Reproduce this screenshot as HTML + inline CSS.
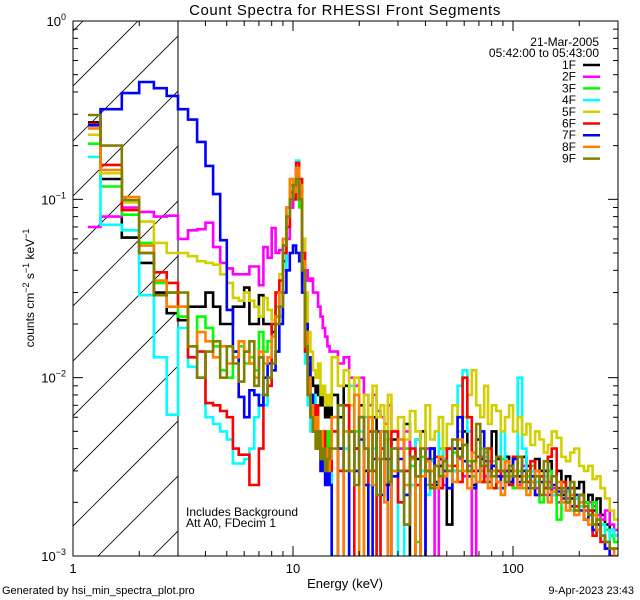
<!DOCTYPE html>
<html><head><meta charset="utf-8"><style>
body{margin:0;background:#fff;}
svg{display:block;font-family:"Liberation Sans",sans-serif;}
</style></head><body>
<svg id="chart" width="640" height="600" viewBox="0 0 640 600">
<defs><clipPath id="plotclip"><rect x="73" y="21" width="545" height="535"/></clipPath>
<clipPath id="hatchclip"><rect x="73" y="21" width="105" height="535"/></clipPath></defs>
<text x="345" y="15" font-size="15" text-anchor="middle" letter-spacing="0.6">Count Spectra for RHESSI Front Segments</text>
<g id="hatch" clip-path="url(#hatchclip)"></g>
<line x1="178" y1="21" x2="178" y2="556" stroke="#000" stroke-width="1"/>
<g id="series" clip-path="url(#plotclip)"></g>
<rect x="73" y="21" width="545" height="535" fill="none" stroke="#000" stroke-width="1"/>
<g id="axes"></g>
<text x="345" y="588" font-size="13" text-anchor="middle">Energy (keV)</text>
<text transform="translate(34,288) rotate(-90)" font-size="12" text-anchor="middle">counts cm<tspan dy="-5" font-size="9">−2</tspan><tspan dy="5"> s</tspan><tspan dy="-5" font-size="9">−1</tspan><tspan dy="5"> keV</tspan><tspan dy="-5" font-size="9">−1</tspan></text>
<text x="599" y="46" font-size="12" text-anchor="end">21-Mar-2005</text>
<text x="599" y="57" font-size="12" text-anchor="end">05:42:00 to 05:43:00</text>
<g id="legend"></g>
<text x="186" y="516" font-size="12">Includes Background</text>
<text x="186" y="527" font-size="12">Att A0, FDecim 1</text>
<text x="2" y="594" font-size="11">Generated by hsi_min_spectra_plot.pro</text>
<text x="634" y="594" font-size="11" text-anchor="end">9-Apr-2023 23:43</text>
</svg>
<script>
const energyEdges=[1.17,1.333,1.667,2,2.333,2.667,3,3.333,3.667,4,4.333,4.667,5,5.333,5.667,6,6.333,6.667,7,7.333,7.667,8,8.333,8.667,9,9.333,9.667,10,10.333,10.667,11,11.333,11.667,12,12.333,12.667,13,13.333,13.667,14,14.333,14.667,
15,16,17,18,19,20,21,22,23,24,25,26,27,28,30,32,34,36,38,40,42,44,46,48,50,53,56,59,62,65,68,71,74,77,80,84,88,92,96,100,105,110,115,120,126,132,138,144,150,158,166,174,182,190,200,210,220,230,240,250,262,275,288,300];
const seriesNames=["1F","2F","3F","4F","5F","6F","7F","8F","9F"];
const seriesColors=["#000000","#ff00ff","#00ff00","#00ffff","#d4d000","#ff0000","#0000ff","#ff8000","#808000"];
// counts in units of 1e-3 counts cm^-2 s^-1 keV^-1
const s1F=[270,130,61,44,30,23,21,25,25,30,25,20,20,25,25,32,20,20,29,20,20,18,22,30,45,70,90,100,150,110,40,18,12,10,9,8,9,7,8,6,7,6,
8,6,9,5,4,7,3,5,6,3.5, 4,5,2.5,4.5,3,5.5,0.7,3.5,5,3, 4,2.5,3.2,4,1.5,3,4,5,3,2.5, 4.5,3.5,2.6,3,5,3.5,2.8,3.6,3,2.4, 2.8,3.6,3.2,2.6,3.5,3,2.4,3.4,2.2,3, 2.2,2.8,2.1,2.4,2.6,2,2.2,1.8,2.1,1.7, 1.5,1.4,1.3];
const s2F=[70,80,90,85,80,81,60,67,68,74,54,44,41,38,38,38,42,42,33,54,47,69,50,52,55,60,90,120,150,100,60,40,35,36,30,30,25,22,19,17,15,14,
14,12,13,10,9,10,8,7,8,6.5, 6,5.5,7,5,4,5,3.5,4.5,3,4, 3,0.5,3.5,2.5,3,4,3.5,2.8,3.2,0.4, 3,3.6,2.8,3.4,3,2.6,3,3.4,2.6,3, 2.5,3.2,2.6,3,2.4,2.8,2.2,2.6,2.4,2, 2.3,2.1,2.4,1.9,2.2,1.8,2,1.9,1.7,1.6, 1.8,1.5,1.4];
const s3F=[205,118,82,57,34,30,22,15,22,19,15,11,10,14,15,12,13,11,18,14,16,20,25,30,60,90,120,100,130,90,35,15,9,7,6,6,4,5,4.5,4,5,4,
6,4,7,3,5,0.8,4,6,3,5, 3.5,2.5,4.5,3,2,4,3.2,1.2,3.6,2.5, 3.5,2.6,4,3,2.4,3.8,3,4.2,3.4,2.8, 3.6,3,2.6,4,3.2,2.4,3.5,2.8,3.2,2.4, 3,2.4,2.8,3.2,2.6,2,2.6,3,2.2,1.6, 2.6,2,2.4,1.8,2.2,2,1.7,2,1.6,1.5, 1.4,1.3,1.2];
const s4F=[173,72,67,29,13,6.2,19,11.5,10,6,5.5,5,4.5,3.3,3.3,3.5,4,6,8,7,9,12,14,22,40,70,110,120,165,100,40,12,7,5,8,6,5,4,4,3,3.5,3,
1,7,4,9,3,5,6,2.5,4,0.8, 3.5,5,2.6,4,0.9,3,2.5,4.5,3,2.2, 3.4,2.6,6,3.5,4,3,9,11,5,3.4, 3,4,3.6,2.8,3.4,2.4,5,3,2.6,3.6, 10,4,2.4,3,2.6,2.2,2.8,2.4,2.2,2.6, 2,2.3,1.8,2.1,1.9,1.6,1.8,1.5,1.4,1.5, 1.2,1.4,1.3];
const s5F=[230,140,96,75,57,50,50,48,45,44,43,38,34,28,27,30,27,25,22,28,24,21,30,38,50,80,100,110,140,120,60,30,18,14,11,10,12,8,9,7,8,7,
13,9,11,7,10,6,8,5,9,6, 7,4.5,8,5,6,4.5,6.5,5,4,7, 4.5,5,6,4,5.5,7,5,6,8,11, 7,6,9,5.5,7,6.5,5,6,7,5, 6,4.8,5.5,4.2,5,4.5,3.8,4.2,5,4.6, 3.6,3.4,3.8,4,3.2,3,3.2,2.7,2.8,2.4, 2.1,1.8,1.6];
const s6F=[265,156,87,50,39,34,25,13,14,7.2,7,6.5,6,4,3.7,3.7,2.5,2.5,4,8,9,20,30,35,50,70,110,100,160,130,50,14,8,6,5,7,4,3.5,5,3,4,3,
5,3,7,0.7,4,6,2.5,5,3,0.8, 4,2.5,3.5,5,2,3,4,2.5,0.9,3.5, 2.5,3.6,2.4,3,4,3.2,2.6,10,6,3, 3.6,2.6,3.2,4,2.4,3,2.8,3.4,2.5,3.6, 2.4,3,2.6,3.4,2.2,2.8,2.4,3.6,4,2.4, 2.6,2,2.4,1.9,2.2,1.6,1.8,1.3,1.5,1.2, 1.1,1,0.9];
const s7F=[260,320,394,455,420,380,320,280,210,154,107,59,24,14,7.8,6,8.5,8,7,10,12,11,14,20,30,40,50,55,50,45,30,20,13,8,6,5,4,3,3.5,2.5,3,2.5,
0.5,4,0.6,5,3,4.5,2.5,0.7,3.5,5, 2.2,3.5,0.8,2.8,3.5,2.2,3.6,2.8,0.9,3, 4,2.6,3.5,3,2.4,4,6,3.4,2.8,2.4, 3,5,3.4,2.6,3.2,2.8,2.4,3,2.6,3.5, 2.6,3,2.4,2.8,2.2,2.6,3,2.2,2.5,2.3, 2.1,2.4,1.9,2.2,1.8,1.6,1.7,1.4,1.5,1.3, 1.1,0.9,0.9];
const s8F=[250,146,103,55,35,25,25,15,18,16,13,15,12,13,16,14,12,10,14,12,13,17,22,30,60,90,130,110,150,120,45,18,10,7,5,6,4,5,3.5,4,3,3.5,
6,0.6,5,3,8,0.7,4,6,2.5,3.5, 5,2,0.6,3,4.5,2.5,3.5,0.8,2.8,3.4, 3,2.4,3.6,2.8,3.2,2.6,4.5,3,2.4,3.8, 2.6,3.2,3.8,2.4,3,2.6,2.2,3.4,2.8,3, 2.4,2.8,2.2,2.6,3,2.2,2.6,2,2.3,2.6, 2,1.8,2.2,1.7,2,1.6,1.5,1.7,1.4,1.3, 1.2,1.1,1];
const s9F=[297,200,99,50,29,30,30,15,10,14,16,10,15,12,9.5,14,16,9,13,8,10,12,20,25,55,80,100,120,130,100,40,15,8,6,5,4,5,3.5,4,3,3.5,4,
4,7,3,5,2.5,6,4,3,5,2.2, 3.5,5,2.6,4,3,1.5,3.6,2.8,4,3, 2.4,3.2,2.8,3.4,3,4.5,3.6,4.2,3,3.4, 5.5,3.2,4,3,2.8,3.6,3,2.6,3.2,2.8, 3.6,2.6,3,2.4,2.8,2.2,3.4,2.4,2.8,2.2, 2.4,2,2.6,1.8,2.2,1.9,1.7,1.5,1.6,1.3, 1.2,1.1,1.1];
const seriesData=[s1F,s2F,s3F,s4F,s5F,s6F,s7F,s8F,s9F];
const xMajorTicks=[1,10,100];
const xTickLabels=["1","10","100"];
const yMajorExps=[0,-1,-2,-3];

const NS="http://www.w3.org/2000/svg";
const X0=73,X1=618,Y0=21,Y1=556,XDEC=220,YDEC=(Y1-Y0)/3;
function xs(e){return X0+Math.log10(e)*XDEC;}
function ys(v){return Y0-Math.log10(v)*YDEC;}
function mk(tag,attrs,parent){const el=document.createElementNS(NS,tag);for(const k in attrs)el.setAttribute(k,attrs[k]);parent.appendChild(el);return el;}

const hatch=document.getElementById('hatch');
for(let c=159-55*4;c<900;c+=55){
  const ln=mk('line',{x1:c-21,y1:21,x2:c-600,y2:600,stroke:'#000','stroke-width':0.8},hatch);
  
  
}

const sg=document.getElementById('series');
seriesData.forEach((vals,si)=>{
  let d='';
  vals.forEach((v,i)=>{
    const xa=xs(energyEdges[i]),xb=xs(energyEdges[i+1]),y=ys(v*1e-3);
    d+=(i===0?'M':'L')+xa.toFixed(1)+','+y.toFixed(1)+'L'+xb.toFixed(1)+','+y.toFixed(1);
  });
  const p=mk('path',{d:d,fill:'none',stroke:seriesColors[si],'stroke-width':2.6,'stroke-linejoin':'miter'},sg);
  
  
});

const ax=document.getElementById('axes');
for(let dec=0;dec<3;dec++){
  for(let m=1;m<10;m++){
    const e=m*Math.pow(10,dec); if(e>300)break;
    const x=xs(e),len=m===1?10:5;
    const t1=mk('line',{x1:x,y1:Y1,x2:x,y2:Y1-len,stroke:'#000'},ax);
    
    
    const t2=mk('line',{x1:x,y1:Y0,x2:x,y2:Y0+len,stroke:'#000'},ax);
    
    
  }
}
xMajorTicks.forEach((e,i)=>{
  const t=mk('text',{x:xs(e),y:573,'font-size':13,'text-anchor':'middle'},ax);
  t.textContent=xTickLabels[i];
  
  
});
yMajorExps.forEach(ex=>{
  for(let m=1;m<10;m++){
    if(ex===0&&m>1)break;
    const y=ys(m*Math.pow(10,ex)),len=m===1?10:5;
    const a=mk('line',{x1:X0,y1:y,x2:X0+len,y2:y,stroke:'#000'},ax);
    
    
    const b=mk('line',{x1:X1,y1:y,x2:X1-len,y2:y,stroke:'#000'},ax);
    
    
  }
  const t=mk('text',{x:66,y:ys(Math.pow(10,ex))+5,'font-size':13,'text-anchor':'end'},ax);
  t.innerHTML='10<tspan dy="-6" font-size="9">'+(ex===0?'0':'−'+(-ex))+'</tspan>';
  
  
});

const lg=document.getElementById('legend');
seriesNames.forEach((n,i)=>{
  const y=65+i*11.7;
  const t=mk('text',{x:576,y:y+4,'font-size':12,'text-anchor':'end'},lg);
  t.textContent=n;
  
  
  const l=mk('line',{x1:583,y1:y,x2:600,y2:y,stroke:seriesColors[i],'stroke-width':2.5},lg);
  
  
});
</script>
</body></html>
